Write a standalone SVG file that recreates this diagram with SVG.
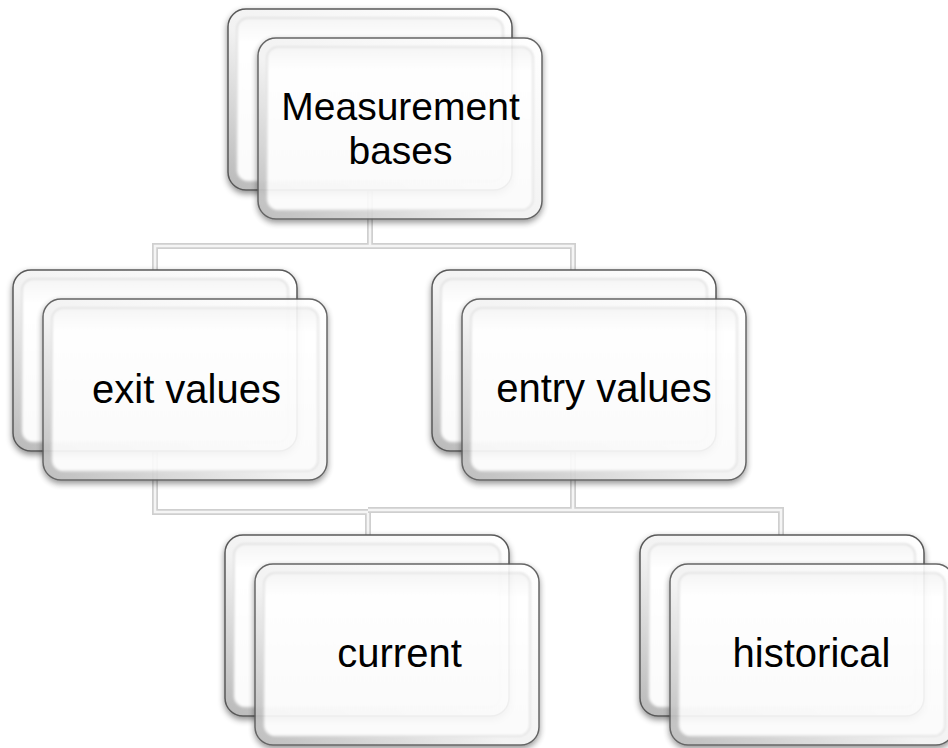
<svg xmlns="http://www.w3.org/2000/svg" width="948" height="748" viewBox="0 0 948 748">
<defs>
<style>
.lbl{font-family:"Liberation Sans",Arial,sans-serif;font-size:40px;fill:#000;text-anchor:middle}
.lbl2{font-size:39px}
.wire-out{fill:none;stroke:#cfcfcf;stroke-width:6;stroke-linejoin:miter}
.wire-in{fill:none;stroke:#f5f5f5;stroke-width:2.5;stroke-linejoin:miter}
.front{opacity:0.92}
</style>
<linearGradient id="rim" x1="1" y1="0" x2="0" y2="1">
 <stop offset="0" stop-color="#ffffff"/>
 <stop offset="0.55" stop-color="#f2f2f2"/>
 <stop offset="1" stop-color="#b8b8b8"/>
</linearGradient>
<linearGradient id="face" x1="0" y1="0" x2="0" y2="1">
 <stop offset="0" stop-color="#f5f5f5"/>
 <stop offset="0.15" stop-color="#ffffff"/>
 <stop offset="1" stop-color="#fbfbfb"/>
</linearGradient>
<filter id="shadow" x="-10%" y="-10%" width="120%" height="130%">
 <feDropShadow dx="0" dy="3" stdDeviation="3" flood-color="#000" flood-opacity="0.45"/>
</filter>
<filter id="soft" x="-5%" y="-5%" width="110%" height="110%"><feGaussianBlur stdDeviation="1"/></filter>
<!-- bevelled card: outer rim with shaded lower-left, flat inner face -->
<g id="card">
 <rect x="0" y="0" width="284" height="181" rx="18" fill="url(#rim)" stroke="#595959" stroke-width="1.5" filter="url(#shadow)"/>
 <rect x="9" y="9" width="266" height="163" rx="11" fill="url(#face)" stroke="#dedede" stroke-width="1.5" filter="url(#soft)"/>
</g>
</defs>
<rect width="948" height="748" fill="#ffffff"/>

<g id="connectors">
 <path class="wire-out" d="M155 270 V246 H573 V270 M370 190 V246"/>
 <path class="wire-in" d="M155 270 V246 H573 V270 M370 190 V246"/>
 <path class="wire-out" d="M155 450 V512 H368 V535"/>
 <path class="wire-in" d="M155 450 V512 H368 V535"/>
 <path class="wire-out" d="M573 448 V510 H368 M573 510 H781 V535"/>
 <path class="wire-in" d="M573 448 V510 H368 M573 510 H781 V535"/>
</g>

<g id="node-measurement-bases">
 <use href="#card" x="228" y="9"/>
 <use class="front" href="#card" x="258" y="38"/>
 <text class="lbl lbl2" x="400.5" y="119.5">Measurement</text>
 <text class="lbl lbl2" x="400.5" y="163.5">bases</text>
</g>

<g id="node-exit-values">
 <use href="#card" x="13" y="270"/>
 <use class="front" href="#card" x="43" y="299"/>
 <text class="lbl" x="186.5" y="403">exit values</text>
</g>

<g id="node-entry-values">
 <use href="#card" x="432" y="270"/>
 <use class="front" href="#card" x="462" y="299"/>
 <text class="lbl" x="604" y="402">entry values</text>
</g>

<g id="node-current">
 <use href="#card" x="225" y="535"/>
 <use class="front" href="#card" x="255" y="564"/>
 <text class="lbl" x="399.5" y="667">current</text>
</g>

<g id="node-historical">
 <use href="#card" x="640" y="535"/>
 <use class="front" href="#card" x="670" y="564"/>
 <text class="lbl" x="811.5" y="667">historical</text>
</g>
</svg>
